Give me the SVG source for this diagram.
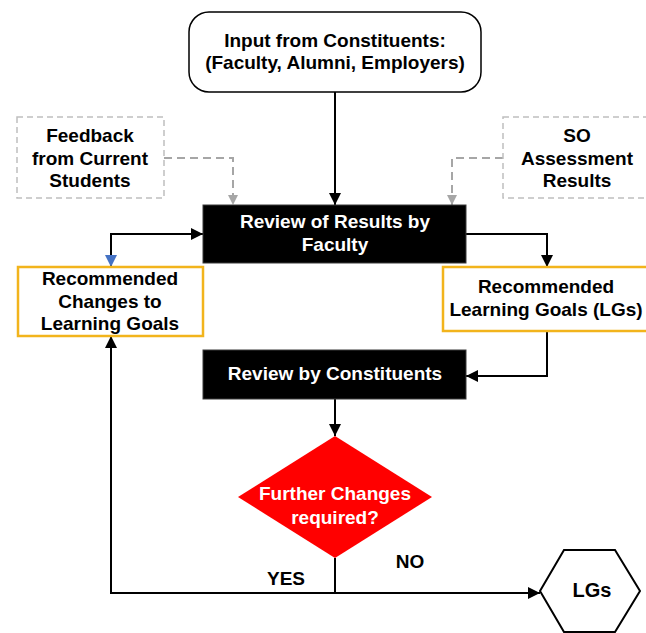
<svg xmlns="http://www.w3.org/2000/svg" width="646" height="633" viewBox="0 0 646 633">
<defs>
<style>
text{font-family:"Liberation Sans",Arial,sans-serif;font-size:19px;font-weight:bold;text-anchor:middle;fill:#000}
.wt{fill:#fff}
.term{fill:#fff;stroke:#000;stroke-width:1.5}
.dash{fill:#fff;stroke:#BFBFBF;stroke-width:1.5;stroke-dasharray:6,4}
.blk{fill:#000;stroke:#3a3a3a;stroke-width:1}
.org{fill:#fff;stroke:#F2B41C;stroke-width:2.5}
.dec{fill:#FF0000;stroke:none}
.hex{fill:#fff;stroke:#000;stroke-width:2}
.c{fill:none;stroke:#000;stroke-width:2}
.cg{fill:none;stroke:#A6A6A6;stroke-width:2;stroke-dasharray:8,5}
</style>
<marker id="ab" viewBox="0 0 10 10" refX="10" refY="5" markerWidth="12" markerHeight="12" markerUnits="userSpaceOnUse" orient="auto"><path d="M0,0 L10,5 L0,10 z" fill="#000"/></marker>
<marker id="ag" viewBox="0 0 10 10" refX="10" refY="5" markerWidth="10" markerHeight="10" markerUnits="userSpaceOnUse" orient="auto"><path d="M0,0 L10,5 L0,10 z" fill="#A6A6A6"/></marker>
<marker id="abl" viewBox="0 0 10 10" refX="10" refY="5" markerWidth="12" markerHeight="12" markerUnits="userSpaceOnUse" orient="auto-start-reverse"><path d="M0,0 L10,5 L0,10 z" fill="#4472C4"/></marker>
</defs>
<rect width="646" height="633" fill="#fff"/>
<g id="connectors">
<path class="c" d="M335,92 V205" marker-end="url(#ab)"/>
<path class="cg" d="M164,158 H233 V205" marker-end="url(#ag)"/>
<path class="cg" d="M503,158 H452 V205" marker-end="url(#ag)"/>
<path class="c" d="M111,267 V234 H203" marker-start="url(#abl)" marker-end="url(#ab)"/>
<path class="c" d="M466,234 H547 V267" marker-end="url(#ab)"/>
<path class="c" d="M547,331 V376 H466" marker-end="url(#ab)"/>
<path class="c" d="M335,399 V436" marker-end="url(#ab)"/>
<path class="c" d="M335,558 V593 H111 V336" marker-end="url(#ab)"/>
<path class="c" d="M335,593 H540" marker-end="url(#ab)"/>
<text x="286" y="585">YES</text>
<text x="410" y="568">NO</text>
</g>
<g id="input">
<rect class="term" x="189" y="12" width="292" height="80" rx="20"/>
<text x="335" y="47">Input from Constituents:</text>
<text x="335" y="69">(Faculty, Alumni, Employers)</text>
</g>
<g id="feedback">
<rect class="dash" x="17" y="117" width="147" height="81"/>
<text x="90" y="142">Feedback</text>
<text x="90" y="164.5">from Current</text>
<text x="90" y="187">Students</text>
</g>
<g id="so-results">
<rect class="dash" x="503" y="117" width="150" height="81"/>
<text x="577" y="142">SO</text>
<text x="577" y="164.5">Assessment</text>
<text x="577" y="187">Results</text>
</g>
<g id="review-faculty">
<rect class="blk" x="203" y="205" width="263" height="58"/>
<text class="wt" x="335" y="228">Review of Results by</text>
<text class="wt" x="335" y="251">Faculty</text>
</g>
<g id="rec-changes">
<rect class="org" x="18" y="267" width="185" height="69"/>
<text x="110" y="285">Recommended</text>
<text x="110" y="307.5">Changes to</text>
<text x="110" y="330">Learning Goals</text>
</g>
<g id="rec-lgs">
<rect class="org" x="443" y="267" width="210" height="64"/>
<text x="546" y="293">Recommended</text>
<text x="546" y="316">Learning Goals (LGs)</text>
</g>
<g id="review-constituents">
<rect class="blk" x="203" y="350" width="263" height="49"/>
<text class="wt" x="335" y="380">Review by Constituents</text>
</g>
<g id="decision">
<polygon class="dec" points="335,436 432,497 335,558 238,497"/>
<text class="wt" x="335" y="500">Further Changes</text>
<text class="wt" x="335" y="524">required?</text>
</g>
<g id="lgs">
<polygon class="hex" points="540,591 564,550 615,550 640,591 615,632 564,632"/>
<text x="592" y="597" style="font-size:20px">LGs</text>
</g>
</svg>
